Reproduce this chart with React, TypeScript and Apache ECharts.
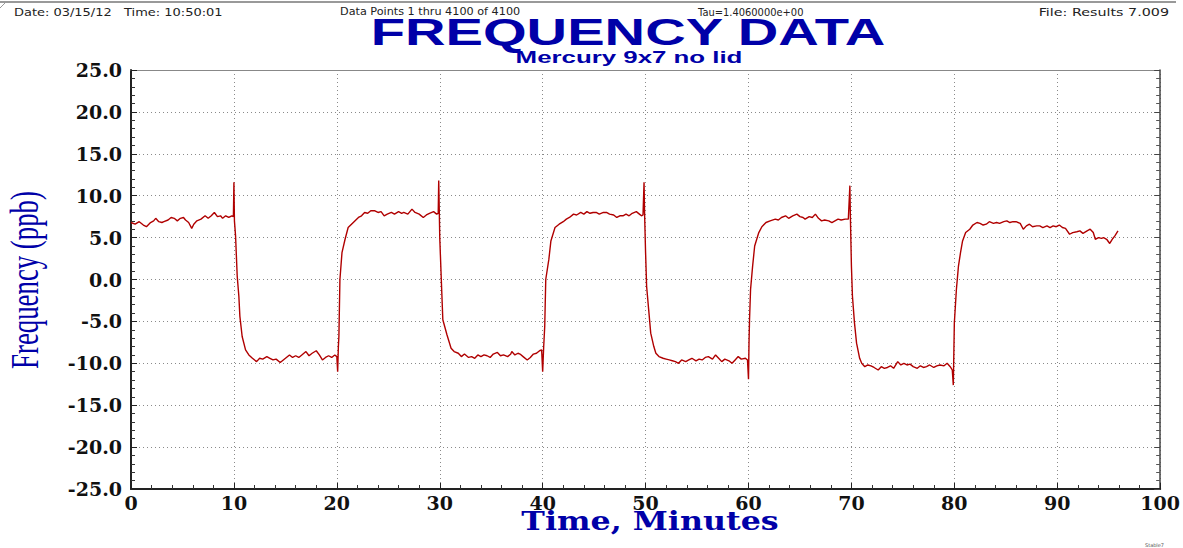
import React, { useEffect, useRef } from "react";
import * as echarts from "echarts";

// Time in minutes
const times: number[] = [
  0, 0.4, 0.8, 1.2, 1.5, 1.9, 2.2, 2.4, 2.7, 3.0, 3.2, 3.6, 3.9, 4.2, 4.5, 4.8, 5.1, 5.3, 5.6, 5.9, 6.1, 6.4, 6.8, 7.2, 7.5, 7.8, 8.1, 8.4, 8.7, 8.9, 9.2, 9.5, 9.8, 9.95,
  10.0, 10.05, 10.16, 10.32, 10.48, 10.58, 10.8, 11.13, 11.45,
  11.8, 12.2, 12.5, 12.8, 13.2, 13.5, 13.8, 14.1, 14.5, 14.8, 15.1, 15.4, 15.7, 16.0, 16.3, 16.6, 17.0, 17.3, 17.6, 18.0, 18.3, 18.6, 18.9, 19.2, 19.5, 19.8, 20.0, 20.08,
  20.15, 20.2, 20.3, 20.5, 20.8, 21.1, 21.6, 22.1, 22.4, 22.7, 23.0, 23.3, 23.7, 24.0, 24.3, 24.6, 24.9, 25.3, 25.6, 26.0, 26.3, 26.5, 26.9, 27.3, 27.6, 28.0, 28.4, 28.7, 29.0, 29.4, 29.7, 29.85,
  29.9, 29.95, 30.0, 30.2, 30.3, 30.7, 31.1, 31.4, 31.8, 32.1, 32.4, 32.8, 33.1, 33.4, 33.7, 34.0, 34.3, 34.6, 34.9, 35.2, 35.6, 35.9, 36.2, 36.6, 36.9, 37.0, 37.3, 37.6, 37.8, 38.1, 38.5, 38.8, 39.1, 39.4, 39.7, 39.9, 40.0,
  40.1, 40.2, 40.3, 40.6, 40.8, 41.2, 41.6, 42.0, 42.3, 42.6, 43.0, 43.3, 43.7, 44.0, 44.3, 44.6, 44.9, 45.2, 45.5, 45.9, 46.2, 46.5, 46.9, 47.2, 47.5, 47.8, 48.1, 48.4, 48.7, 49.1, 49.4, 49.6, 49.75,
  49.85, 49.9, 50.0, 50.1, 50.3, 50.5, 50.8, 51.0, 51.3, 51.7, 52.0, 52.3, 52.6, 52.9, 53.2, 53.5, 53.9, 54.2, 54.5, 54.9, 55.2, 55.5, 55.8, 56.1, 56.5, 56.8, 57.1, 57.4, 57.7, 58.1, 58.4, 58.7, 59.0, 59.3, 59.7, 59.9, 60.0,
  60.05, 60.1, 60.2, 60.4, 60.6, 61.0, 61.3, 61.7, 62.1, 62.6, 62.9, 63.2, 63.6, 63.9, 64.3, 64.7, 65.0, 65.3, 65.5, 65.9, 66.2, 66.5, 66.8, 67.1, 67.4, 67.8, 68.1, 68.4, 68.7, 69.0, 69.4, 69.7,
  69.85, 69.9, 70.0, 70.1, 70.3, 70.5, 70.8, 71.0, 71.3, 71.6, 71.9, 72.2, 72.6, 72.9, 73.2, 73.5, 73.8, 74.1, 74.5, 74.8, 75.1, 75.4, 75.7, 76.0, 76.4, 76.7, 77.0, 77.3, 77.6, 78.0, 78.3, 78.6, 79.0, 79.3, 79.6, 79.8, 79.9,
  80.0, 80.2, 80.4, 80.6, 80.8, 81.1, 81.5, 81.8, 82.2, 82.5, 82.8, 83.1, 83.4, 83.8, 84.1, 84.4, 84.8, 85.1, 85.4, 85.7, 86.0, 86.4, 86.7, 87.0, 87.3, 87.6, 88.0, 88.3, 88.6, 89.0, 89.3, 89.6, 89.9, 90.2, 90.5, 90.8, 91.2, 91.5, 91.9, 92.2, 92.5, 92.9, 93.2, 93.5, 93.7, 94.0, 94.3, 94.5, 94.8, 95.1, 95.4, 95.6, 95.9,
];

// Frequency in ppb
const freq: number[] = [
  6.8, 6.6, 6.9, 6.5, 6.3, 6.8, 7.0, 7.3, 6.9, 6.8, 6.9, 7.1, 7.4, 7.3, 7.0, 7.3, 7.4, 7.1, 6.8, 6.1, 6.6, 7.0, 7.2, 7.6, 7.3, 7.6, 8.0, 7.5, 7.6, 7.3, 7.6, 7.4, 7.6, 7.5,
  11.6, 7.0, 5.2, 0.4, -2.0, -4.4, -6.8, -8.4, -9.0,
  -9.4, -9.8, -9.4, -9.5, -9.2, -9.4, -9.6, -9.5, -9.9, -9.6, -9.3, -9.0, -9.3, -9.1, -9.3, -9.0, -8.6, -9.1, -8.8, -8.5, -9.0, -9.6, -9.3, -9.1, -9.3, -9.0, -9.2, -11.0,
  -8.0, -6.8, 0.0, 3.2, 4.8, 6.2, 6.8, 7.4, 7.6, 8.0, 7.9, 8.2, 8.2, 8.0, 8.1, 7.6, 7.8, 8.0, 7.8, 8.1, 7.9, 8.0, 7.8, 8.4, 8.0, 7.8, 7.4, 7.7, 7.9, 8.1, 7.8, 7.9,
  11.8, 8.5, 5.0, -1.6, -4.8, -6.6, -8.2, -8.6, -8.8, -9.2, -8.9, -9.3, -9.2, -9.4, -9.0, -9.2, -9.0, -9.1, -9.3, -8.9, -8.7, -9.1, -9.0, -9.2, -8.9, -8.6, -9.0, -8.8, -8.9, -9.2, -9.6, -9.3, -8.9, -8.8, -8.5, -8.4, -11.0,
  -8.0, -5.6, 0.0, 2.4, 4.6, 6.2, 6.6, 6.9, 7.2, 7.4, 7.8, 7.7, 8.0, 7.8, 8.1, 7.9, 8.0, 8.0, 7.8, 8.0, 8.0, 7.8, 7.7, 7.4, 7.6, 7.6, 7.8, 7.6, 7.9, 8.1, 7.8, 7.6, 7.7,
  11.6, 8.0, 3.2, -0.8, -3.6, -6.4, -8.0, -8.8, -9.2, -9.4, -9.5, -9.6, -9.7, -9.8, -10.0, -9.6, -9.8, -9.6, -9.4, -9.7, -9.5, -9.6, -9.3, -9.2, -9.5, -9.0, -9.4, -9.8, -9.5, -9.7, -10.0, -9.6, -9.2, -9.5, -9.4, -9.6, -11.9,
  -7.5, -4.8, -1.2, 1.6, 4.0, 5.6, 6.3, 6.8, 7.0, 7.2, 7.1, 7.4, 7.6, 7.3, 7.6, 7.8, 7.5, 7.4, 7.2, 7.5, 7.4, 7.8, 7.3, 7.0, 7.1, 7.0, 6.8, 7.0, 7.2, 7.1, 7.2, 7.2,
  11.2, 7.5, 1.6, -2.0, -5.2, -7.6, -9.4, -10.0, -10.4, -10.2, -10.3, -10.5, -10.8, -10.4, -10.6, -10.5, -10.3, -10.6, -9.8, -10.2, -10.0, -10.2, -10.1, -10.4, -10.6, -10.3, -10.5, -10.4, -10.2, -10.5, -10.3, -10.2, -10.3, -10.0, -10.4, -10.8, -12.6,
  -5.2, -1.2, 1.6, 3.2, 4.6, 5.6, 6.0, 6.5, 6.8, 6.7, 6.5, 6.6, 6.9, 6.7, 6.8, 6.7, 6.9, 7.0, 6.8, 6.9, 6.9, 6.7, 6.0, 6.4, 6.6, 6.3, 6.4, 6.4, 6.2, 6.4, 6.2, 6.4, 6.3, 6.5, 6.2, 6.1, 5.4, 5.6, 5.7, 5.8, 5.5, 5.8, 6.0, 5.6, 4.8, 5.0, 4.9, 5.0, 4.8, 4.3, 4.9, 5.2, 5.8,
];

const xTicks = { min: 0, max: 100, interval: 10 };
const yTicks = { min: -25, max: 25, interval: 5 };

const headerDate = "Date: 03/15/12   Time: 10:50:01";
const headerPoints = "Data Points 1 thru 4100 of 4100";
const headerTau = "Tau=1.4060000e+00";
const headerFile = "File: Results 7.009";
const titleText = "FREQUENCY DATA";
const subtitleText = "Mercury 9x7 no lid";
const yName = "Frequency (ppb)";
const xName = "Time, Minutes";

export default function App() {
  const ref = useRef<HTMLDivElement>(null);
  useEffect(() => {
    document.body.style.margin = "0";
    const chart = echarts.init(ref.current!, null, { renderer: "svg" });
    const data = times.map((t, i) => [t, freq[i]]);
    const blue = "#0000A8";
    const labelFont = {
      fontFamily: "DejaVu Serif",
      fontWeight: "bold" as const,
      fontSize: 19,
      color: "#111",
    };
    const headerStyle = { fontFamily: "DejaVu Sans", fontSize: 11, fill: "#222", textVerticalAlign: "middle" };
    chart.setOption({
      animation: false,
      backgroundColor: "#fff",
      grid: { left: 131, right: 17, top: 70, bottom: 59, containLabel: false },
      xAxis: [
        {
          type: "value",
          min: xTicks.min,
          max: xTicks.max,
          interval: xTicks.interval,
          position: "bottom",
          axisLine: { show: true, onZero: false, lineStyle: { color: "#222", width: 2 } },
          axisTick: { show: true, inside: true, length: 6, lineStyle: { color: "#222" } },
          minorTick: { show: true, splitNumber: 5, length: 4, lineStyle: { color: "#333" } },
          axisLabel: { ...labelFont, margin: 4 },
          splitLine: { show: true, lineStyle: { color: "#8a8a8a", type: [1, 3], width: 1 } },
        },
        {
          type: "value",
          min: xTicks.min,
          max: xTicks.max,
          interval: xTicks.interval,
          position: "top",
          axisLine: { show: true, onZero: false, lineStyle: { color: "#888", width: 1 } },
          axisTick: { show: false },
          axisLabel: { show: false },
          splitLine: { show: false },
        },
      ],
      yAxis: [
        {
          type: "value",
          min: yTicks.min,
          max: yTicks.max,
          interval: yTicks.interval,
          position: "left",
          axisLine: { show: true, onZero: false, lineStyle: { color: "#222", width: 2 } },
          axisTick: { show: true, inside: true, length: 6, lineStyle: { color: "#222" } },
          minorTick: { show: true, splitNumber: 5, length: 4, lineStyle: { color: "#333" } },
          axisLabel: { ...labelFont, margin: 9, formatter: (v: number) => v.toFixed(1) },
          splitLine: { show: true, lineStyle: { color: "#8a8a8a", type: [1, 3], width: 1 } },
        },
        {
          type: "value",
          min: yTicks.min,
          max: yTicks.max,
          interval: yTicks.interval,
          position: "right",
          axisLine: { show: true, onZero: false, lineStyle: { color: "#444", width: 1.5 } },
          axisTick: { show: true, inside: true, length: 6, lineStyle: { color: "#444" } },
          minorTick: { show: true, splitNumber: 5, length: 4, lineStyle: { color: "#555" } },
          axisLabel: { show: false },
          splitLine: { show: false },
        },
      ],
      series: [
        {
          type: "line",
          data,
          xAxisIndex: 0,
          yAxisIndex: 0,
          showSymbol: false,
          symbol: "none",
          lineStyle: { color: "#B00000", width: 1.4 },
          z: 5,
        },
      ],
      graphic: [
        { type: "line", shape: { x1: 0, y1: 2, x2: 1176, y2: 2 }, style: { stroke: "#777", lineWidth: 1.5 } },
        { type: "line", shape: { x1: 0, y1: 8, x2: 6, y2: 2 }, style: { stroke: "#999", lineWidth: 1 } },
        { type: "text", x: 14, y: 12, scaleX: 1.18, style: { ...headerStyle, text: headerDate, textAlign: "left" } },
        { type: "text", x: 340, y: 12, scaleX: 1.02, style: { ...headerStyle, text: headerPoints, textAlign: "left" } },
        { type: "text", x: 698, y: 12, scaleX: 0.9, style: { ...headerStyle, text: headerTau, textAlign: "left" } },
        { type: "text", x: 1169, y: 12, scaleX: 1.3, style: { ...headerStyle, text: headerFile, textAlign: "right" } },
        {
          type: "text", x: 628, y: 32, scaleX: 1.56,
          style: { text: titleText, fontFamily: "Liberation Sans", fontWeight: "bold", fontSize: 36, fill: blue, textAlign: "center", textVerticalAlign: "middle" },
        },
        {
          type: "text", x: 629, y: 57, scaleX: 1.52,
          style: { text: subtitleText, fontFamily: "Liberation Sans", fontWeight: "bold", fontSize: 17, fill: blue, textAlign: "center", textVerticalAlign: "middle" },
        },
        {
          type: "text", x: 24, y: 280, rotation: Math.PI / 2, scaleX: 0.67,
          style: { text: yName, fontFamily: "Liberation Serif", fontSize: 40, fill: blue, textAlign: "center", textVerticalAlign: "middle" },
        },
        {
          type: "text", x: 650, y: 521, scaleX: 1.22,
          style: { text: xName, fontFamily: "DejaVu Serif", fontWeight: "bold", fontSize: 26, fill: blue, textAlign: "center", textVerticalAlign: "middle" },
        },
        {
          type: "text", x: 1145, y: 545,
          style: { text: "Stable7", fontFamily: "DejaVu Sans", fontSize: 5, fill: "#555", textAlign: "left", textVerticalAlign: "middle" },
        },
      ],
    });
    return () => chart.dispose();
  }, []);
  return <div ref={ref} style={{ width: 1183, height: 548 }} />;
}
